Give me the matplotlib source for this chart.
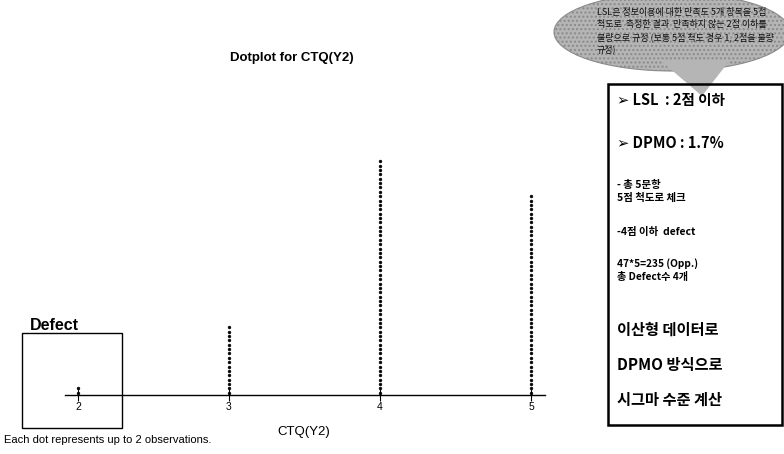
import math
import matplotlib
matplotlib.use("Agg")
import matplotlib.pyplot as plt
from matplotlib.patches import Rectangle, Ellipse, Polygon

# ---- data ----
values = [2, 3, 4, 5]
obs_counts = [4, 32, 108, 91]          # observations per value
obs_per_dot = 2
tick_labels = ["2", "3", "4", "5"]
title = "Dotplot for CTQ(Y2)"
xlabel = "CTQ(Y2)"
footnote = "Each dot represents up to 2 observations."
callout_lines = ["LSL은 정보이용에 대한 만족도 5개 항목을 5점",
                 "척도로  측정한 결과  만족하지 않는 2점 이하를",
                 "불량으로 규정 (보통 5점 척도 경우 1, 2점을 불량",
                 "규정)"]

KR = ["Noto Sans CJK KR", "DejaVu Sans"]
AR = ["Liberation Sans", "DejaVu Sans"]

W, H = 784, 454
fig = plt.figure(figsize=(W / 100, H / 100), dpi=100)

# ---- dot plot axes ----
axis_y = 395
left_px, right_px, top_px = 65, 545, 100
ax = fig.add_axes([left_px / W, (H - axis_y) / H, (right_px - left_px) / W, (axis_y - top_px) / H])
px_per_unit = 151.0
x0 = 2 - (78 - left_px) / px_per_unit
x1 = 5 + (right_px - 531) / px_per_unit
ax.set_xlim(x0, x1)
dot_px = 4.37
ax.set_ylim(0, (axis_y - top_px) / dot_px)
for v, c in zip(values, obs_counts):
    n = math.ceil(c / obs_per_dot)
    ys = [i + 0.5 for i in range(n)]
    ax.plot([v] * n, ys, linestyle="none", marker="o", markersize=2.0,
            color="black", markeredgewidth=0.4, clip_on=False)
for s in ["top", "left", "right"]:
    ax.spines[s].set_visible(False)
ax.spines["bottom"].set_linewidth(1.0)
ax.set_yticks([])
ax.set_xticks(values)
ax.set_xticklabels(tick_labels, fontsize=7.5, family=AR)
ax.tick_params(axis="x", direction="inout", length=8, width=0.8, pad=1)
ax.patch.set_alpha(0)

# ---- overlay in pixel coordinates ----
ov = fig.add_axes([0, 0, 1, 1], zorder=5)
ov.set_xlim(0, W)
ov.set_ylim(H, 0)
ov.axis("off")
ov.patch.set_alpha(0)

ov.text(292, 58, title, ha="center", va="center", fontsize=9.5, fontweight="bold", family=AR)
ov.text(304, 432, xlabel, ha="center", va="center", fontsize=9.5, family=AR)
ov.text(4, 440, footnote, ha="left", va="center", fontsize=8, family=AR)

# Defect box
ov.add_patch(Rectangle((22, 333), 100, 95, fill=False, edgecolor="black", linewidth=1.0))
ov.text(30, 325, "Defect", ha="left", va="center", fontsize=11.5, fontweight="bold", family=AR)

# callout cloud
ov.add_patch(Ellipse((672, 32), 236, 78, facecolor="#b5b5b5", edgecolor="#8a8a8a",
                     linewidth=0.8, hatch="....", zorder=2))
ov.add_patch(Polygon([[660, 60], [730, 60], [702, 96]], closed=True, facecolor="#b5b5b5",
                     edgecolor="none", hatch="....", zorder=2))
for i, line in enumerate(callout_lines):
    ov.text(597, 12 + i * 12.5, line, ha="left", va="center", fontsize=6.5,
            family=KR, color="#111111", zorder=4)

# right info box
ov.add_patch(Rectangle((608, 84), 174, 341, fill=False, edgecolor="black", linewidth=1.8, zorder=3))
items = [
    (100, "➢ LSL  : 2점 이하", 10.5),
    (143, "➢ DPMO : 1.7%", 10.5),
    (185, "- 총 5문항", 7.5),
    (198, "5점 척도로 체크", 7.5),
    (232, "-4점 이하  defect", 7.5),
    (264, "47*5=235 (Opp.)", 7.3),
    (277, "총 Defect수 4개", 7.3),
    (330, "이산형 데이터로", 11),
    (365, "DPMO 방식으로", 11),
    (400, "시그마 수준 계산", 11),
]
for y, txt, fs in items:
    ov.text(617, y, txt, ha="left", va="center", fontsize=fs, fontweight="bold",
            family=KR, zorder=4)

fig.savefig("out.png", dpi=100)
